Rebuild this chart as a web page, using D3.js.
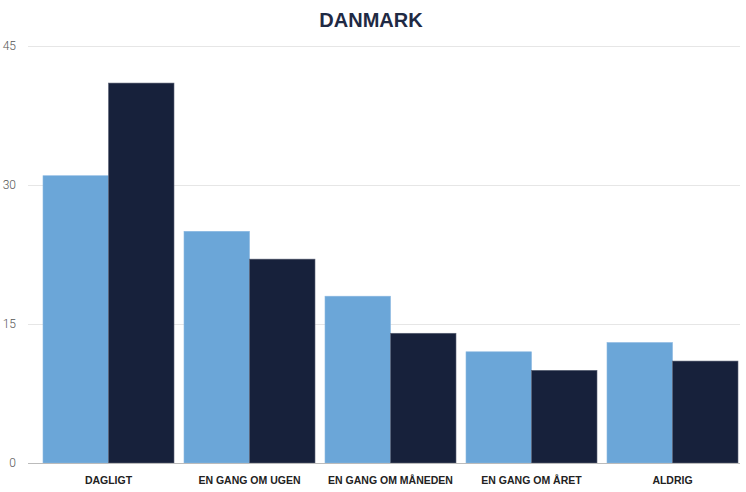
<!DOCTYPE html>
<html><head><meta charset="utf-8">
<script src="https://cdn.jsdelivr.net/npm/d3@7"></script>
<style>body{margin:0;background:#fff}svg{display:block}</style>
</head><body><svg id="c" width="746" height="492"></svg>
<script>
const categories = ["DAGLIGT","EN GANG OM UGEN","EN GANG OM MÅNEDEN","EN GANG OM ÅRET","ALDRIG"];
const series1 = [31,25,18,12,13];
const series2 = [41,22,14,10,11];
const yTicks = [0,15,30,45];
const title = "DANMARK";

const svg = d3.select("#c");
const x = d3.scaleBand().domain(categories).range([38,743]).paddingInner(10/141).paddingOuter(5/141);
const xs = d3.scaleBand().domain([0,1]).range([0,x.bandwidth()]);
const y = d3.scaleLinear().domain([0,45]).range([463,46]);

svg.append("g").selectAll("line").data(yTicks.filter(d=>d>0)).join("line")
 .attr("x1",28).attr("x2",740).attr("y1",d=>Math.round(y(d))+0.5).attr("y2",d=>Math.round(y(d))+0.5)
 .attr("stroke","#e6e6e6").attr("stroke-width",1);

const yAxis = d3.axisLeft(y).tickValues(yTicks).tickSize(0).tickPadding(0);
const ga = svg.append("g").attr("transform","translate(16,0)").call(yAxis);
ga.select(".domain").remove();
ga.selectAll("text").attr("font-family","Roboto, 'Open Sans', sans-serif").attr("font-size",12).attr("font-weight",300).attr("fill","#555");

const colors=["#6ba6d8","#17213b"];
const g = svg.append("g");
categories.forEach((c,i)=>{
  [series1[i],series2[i]].forEach((v,j)=>{
    g.append("rect").attr("x",x(c)+xs(j)).attr("width",xs.bandwidth())
     .attr("y",y(v)).attr("height",y(0)-y(v)).attr("fill",colors[j])
     .attr("stroke", j==0?"#8ab8e2":"#5a6275").attr("stroke-width",0.6);
  });
});

svg.append("line").attr("x1",28).attr("x2",740).attr("y1",463.5).attr("y2",463.5).attr("stroke","#bbb");

const xAxis = d3.axisBottom(x).tickSize(0).tickPadding(0);
const gx = svg.append("g").attr("transform","translate(0,484)").call(xAxis);
gx.select(".domain").remove();
gx.selectAll("text").attr("dy",0).attr("font-family","'Liberation Sans', Arial, sans-serif").attr("font-size",10.5).attr("font-weight",700).attr("fill","#222");

svg.append("text").attr("x",371).attr("y",27).attr("text-anchor","middle")
 .attr("font-family","'Liberation Sans', Arial, sans-serif").attr("font-size",20).attr("font-weight",700).attr("fill","#1f2a44").text(title);
</script></body></html>
